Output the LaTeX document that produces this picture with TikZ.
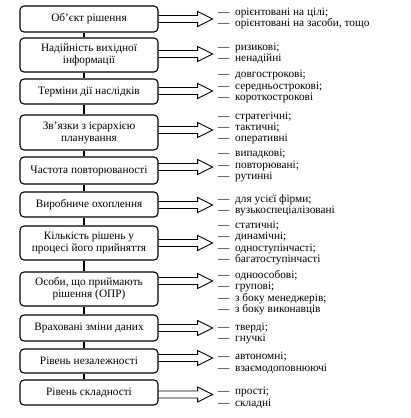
\documentclass[tikz,border=0pt]{standalone}
\usepackage{fontspec}
\setmainfont{Liberation Serif}
\usetikzlibrary{calc}
\newcommand\dd{\makebox[17pt][l]{—}}
\newcommand\darrow[2]{\draw[arr] ($(#1.east)+(0,#2-3.5)$) -- ++(39,0) -- ++(0,-4) -- ++(15,7.5) -- ++(-15,7.5) -- ++(0,-4) -- ++(-39,0);}
\begin{document}
\begin{tikzpicture}[x=1pt,y=-1pt,
  box/.style={draw, line width=1.1pt, rounded corners=4pt, minimum width=138pt, inner sep=0pt, align=center, font=\fontsize{11.3}{12}\selectfont},
  lst/.style={anchor=west, inner sep=0pt, align=left, font=\fontsize{11.3}{11.4}\selectfont},
  arr/.style={line width=0.9pt, line join=miter},
  link/.style={line width=1.1pt}]
\useasboundingbox (0,0) rectangle (411,418);
\coordinate (vx) at (84,0);
\node[box, minimum height=26pt] (b1) at (89,19) {Об’єкт рішення};
\node[box, minimum height=34pt] (b2) at (89,55) {Надійність вихідної\\інформації};
\node[box, minimum height=25pt] (b3) at (89,91.5) {Терміни дії наслідків};
\node[box, minimum height=35pt] (b4) at (89,132.5) {Зв’язки з ієрархією\\планування};
\node[box, minimum height=27pt] (b5) at (89,170.5) {Частота повторюваності};
\node[box, minimum height=25pt] (b6) at (89,204.5) {Виробниче охоплення};
\node[box, minimum height=34pt] (b7) at (89,243) {Кількість рішень у\\процесі його прийняття};
\node[box, minimum height=34pt] (b8) at (89,289) {Особи, що приймають\\рішення (ОПР)};
\node[box, minimum height=26pt] (b9) at (89,328) {Враховані зміни даних};
\node[box, minimum height=24pt] (b10) at (89,361) {Рівень незалежності};
\node[box, minimum height=25pt] (b11) at (89,392.5) {Рівень складності};
\foreach \a/\b in {b1/b2,b2/b3,b3/b4,b4/b5,b5/b6,b6/b7,b7/b8,b8/b9,b9/b10,b10/b11}
  \draw[link] (\a.south -| vx) -- (\b.north -| vx);
\darrow{b1}{0}
\darrow{b2}{-1}
\darrow{b3}{-0.5}
\darrow{b4}{-2.5}
\darrow{b5}{-3.5}
\darrow{b6}{0.5}
\darrow{b7}{0}
\darrow{b8}{-8}
\darrow{b9}{0}
\darrow{b10}{-3}
\darrow{b11}{2}
\node[lst] (l1) at (218,18.5) {\dd орієнтовані на цілі;\\\dd орієнтовані на засоби, тощо};
\node[lst] (l2) at (218,53.5) {\dd ризикові;\\\dd ненадійні};
\node[lst] (l3) at (218,86.5) {\dd довгострокові;\\\dd середньострокові;\\\dd короткострокові};
\node[lst] (l4) at (218,128) {\dd стратегічні;\\\dd тактичні;\\\dd оперативні};
\node[lst] (l5) at (218,165.5) {\dd випадкові;\\\dd повторювані;\\\dd рутинні};
\node[lst] (l6) at (218,205) {\dd для усієї фірми;\\\dd вузькоспеціалізовані};
\node[lst] (l7) at (218,243) {\dd статичні;\\\dd динамічні;\\\dd одноступінчасті;\\\dd багатоступінчасті};
\node[lst] (l8) at (218,292.5) {\dd одноособові;\\\dd групові;\\\dd з боку менеджерів;\\\dd з боку виконавців};
\node[lst] (l9) at (218,333.5) {\dd тверді;\\\dd гнучкі};
\node[lst] (l10) at (218,363) {\dd автономні;\\\dd взаємодоповнюючі};
\node[lst] (l11) at (218,398) {\dd прості;\\\dd складні};
\end{tikzpicture}
\end{document}
